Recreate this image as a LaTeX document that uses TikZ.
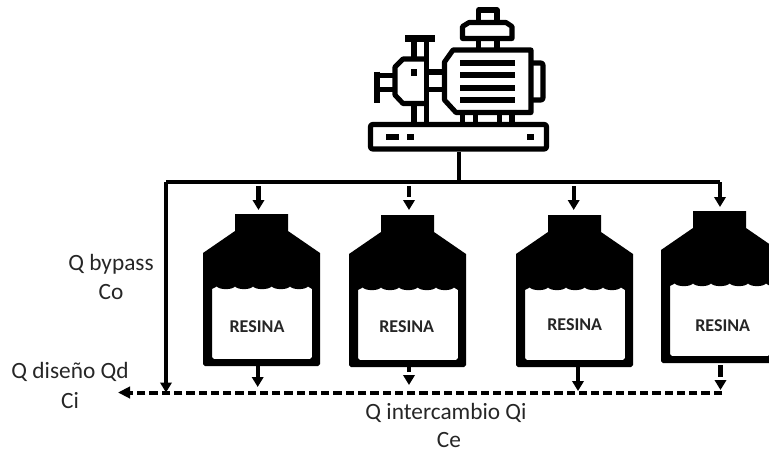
\documentclass[tikz,border=0pt]{standalone}
\usepackage{fontspec}
\setmainfont{Carlito}
\usetikzlibrary{arrows.meta}

\tikzset{
  linea/.style={line width=2.6pt},
  flecha/.style={line width=3.2pt,-{Triangle[length=7.5pt,width=8.5pt]}},
  punteada/.style={line width=3pt,dash pattern=on 6.2pt off 3pt},
  trazo/.style={line width=3.8pt,line join=round},
  barra/.style={fill=black,draw=none},
  etiqueta/.style={inner sep=0pt,font=\fontsize{17.5pt}{20pt}\selectfont,text=black!85},
  resina/.style={inner sep=0pt,font=\fontsize{13.5pt}{16pt}\selectfont\bfseries,text=black!85}
}

\begin{document}
\begin{tikzpicture}[x=0.75pt,y=0.75pt,yscale=-1,xscale=1]
\useasboundingbox (0,0) rectangle (769,451);
\clip (0,0) rectangle (769,451);

%Base
\draw [trazo,rounded corners=1.5pt] (370.5,124.5) rectangle (546.5,149);
\path [barra] (386,133.5) rectangle (398.5,140);
\path [barra] (407,133.5) rectangle (414,140);
\path [barra] (527,133.5) rectangle (533.5,140);
%Motor
\draw [trazo] (453,50) -- (531,50) -- (531,112.5) -- (456,112.5) -- (444.5,100) -- (444.5,62) -- cycle;
\path [barra] (460,60) rectangle (515,66);
\path [barra] (460,72.3) rectangle (515,78.3);
\path [barra] (460,85) rectangle (515,90.7);
\path [barra] (460,97.3) rectangle (515,102.7);
\draw [trazo,rounded corners=1.5pt] (531,63) -- (543,63) -- (543,100) -- (531,100);
\foreach \x in {462.5,475.5,499.5,512}
  \draw [trazo] (\x,112.5) -- (\x,124.5);
%Ventilador
\draw [trazo] (462.5,38.5) -- (462.5,26.5) -- (469,22.5) -- (506,22.5) -- (512,26.5) -- (512,38.5) -- cycle;
\draw [trazo] (478.5,22.5) -- (478.5,10) -- (497,10) -- (497,22.5);
\draw [trazo] (478.5,38.5) -- (478.5,50);
\draw [trazo] (497,38.5) -- (497,50);
%Bomba
\draw [trazo] (426.5,59) -- (403,59) -- (395,67) -- (395,95) -- (403,103.5) -- (426.5,103.5);
\draw [trazo] (426.5,38) -- (426.5,124.5);
\draw [trazo] (414,38) -- (414,59);
\draw [trazo] (414,103.5) -- (414,124.5);
\path [barra] (405,35) rectangle (435,41.5);
\path [barra] (410.7,69) rectangle (417.3,75.7);
\draw [trazo] (426.5,72) -- (444.5,72);
\draw [trazo] (426.5,89.5) -- (444.5,89.5);
\draw [trazo] (377,71.7) -- (377,102.7);
\draw [trazo] (377,75.3) -- (395,75.3);
\draw [trazo] (377,89.7) -- (395,89.7);

%Tanques
\foreach \n/\dx/\dy/\tx/\ty in {1/0/0/257/326.7,2/146/1/406.7/327,3/313/1/574.7/324.7,4/458/-3/722.7/325.3}{
  \fill [even odd rule,shift={(\dx,\dy)}] (235,214) -- (288,214) -- (288,231) -- (320,253) -- (320,364) -- (318,366) -- (205,366) -- (203,364) -- (203,253) -- (235,231) -- cycle
    (212,289) -- (216.7,286.5) .. controls (220,290) and (232,290) .. (235,286.5) .. controls (238,290) and (250,290) .. (253,286.5) .. controls (256,290) and (268,290) .. (271.7,286.5) .. controls (275,290) and (287,290) .. (290,286.5) .. controls (293,290) and (305,290) .. (308,286.5) -- (312,289) -- (312,357) -- (310,359) -- (214,359) -- (212,357) -- cycle;
  \node [resina] (resina\n) at (\tx,\ty) {RESINA};
}

%Puntos de conexion
\coordinate (bomba) at (459,152);
\coordinate (tuboBomba) at (459,182);
\coordinate (tuboIzq) at (166,182);
\coordinate (tuboDer) at (720,182);
\coordinate (bypass) at (166,392.5);
\coordinate (salidaDer) at (722,392.5);
\coordinate (salida) at (118,392.5);

%Straight Lines
\draw [linea] (bomba) -- (tuboBomba);
\draw [linea] (tuboIzq) -- (tuboDer);
\draw [flecha,line width=2.6pt] (tuboDer) -- (720,207);
\draw [flecha] (tuboIzq) -- (bypass);
\draw [punteada,-{Triangle[length=9pt,width=8.5pt]}] (salidaDer) -- (salida);

%Entradas
\draw [flecha] (258.5,186) -- (258.5,210);
\draw [flecha,dash pattern=on 8pt off 20pt] (409,186) -- (409,210);
\draw [flecha] (573.7,186) -- (573.7,210);
%Salidas
\draw [flecha] (257.7,366) -- (257.7,387);
\draw [flecha,dash pattern=on 4pt off 20pt] (409,367) -- (409,385);
\draw [flecha,dash pattern=on 14pt off 20pt] (578,367) -- (578,391);
\draw [flecha,dash pattern=on 9pt off 20pt] (720.5,365) -- (720.5,390);

% Text Node
\node [etiqueta] (bypassQ) at (111,264) {Q bypass};
% Text Node
\node [etiqueta] (bypassC) at (111,292) {Co};
% Text Node
\node [etiqueta] (disenoQ) at (70,372) {Q diseño Qd};
% Text Node
\node [etiqueta] (disenoC) at (70,401) {Ci};
% Text Node
\node [etiqueta] (intercambioQ) at (446,413) {Q intercambio Qi};
% Text Node
\node [etiqueta] (intercambioC) at (449,440) {Ce};

\end{tikzpicture}
\end{document}
